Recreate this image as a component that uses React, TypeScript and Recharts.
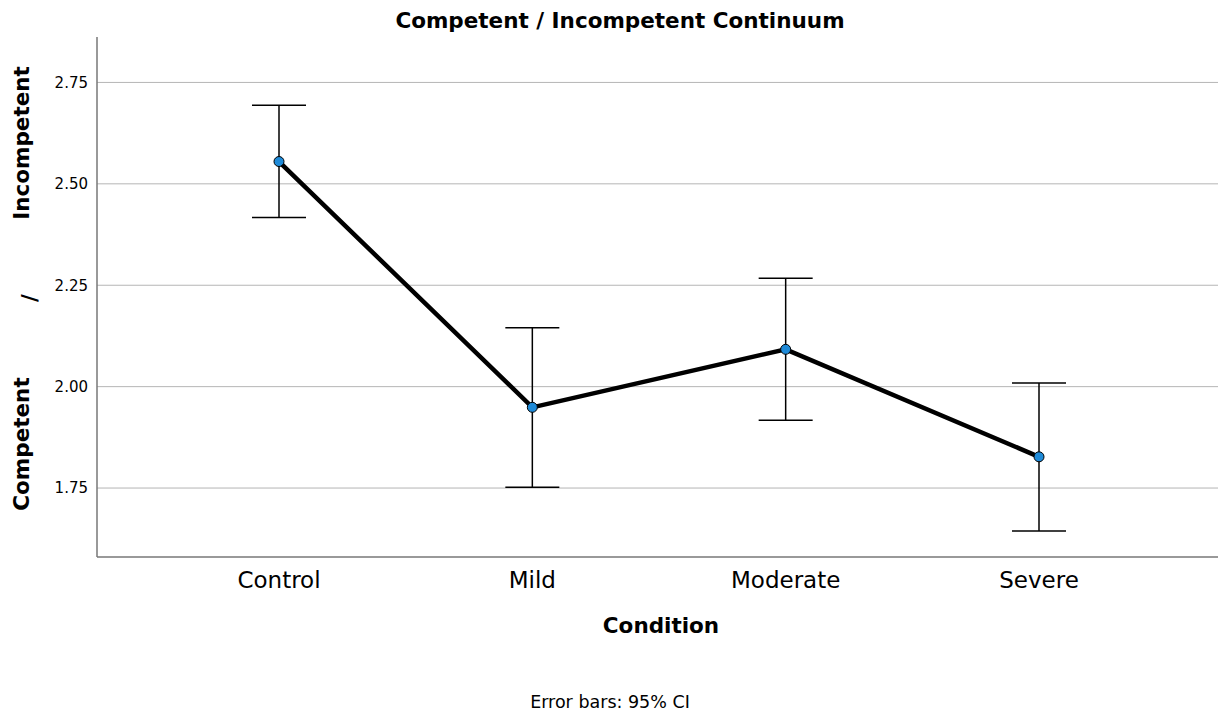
import React from 'react';
import {
  LineChart,
  Line,
  XAxis,
  YAxis,
  CartesianGrid,
  ErrorBar,
  Customized,
} from 'recharts';

// Group means and 95% CI bounds
const conditions = ['Control', 'Mild', 'Moderate', 'Severe'];
const means = [2.555, 1.949, 2.092, 1.827];
const ciLow = [2.417, 1.752, 1.917, 1.644];
const ciHigh = [2.694, 2.145, 2.267, 2.009];
const yTicks = [1.75, 2.0, 2.25, 2.5, 2.75];

const data = conditions.map((name, i) => ({
  name,
  mean: means[i],
  ci: [means[i] - ciLow[i], ciHigh[i] - means[i]],
}));

const FONT = '"DejaVu Sans", sans-serif';

const Texts = () => (
  <g fontFamily={FONT} fill="#000">
    <text x={620} y={28} textAnchor="middle" fontSize={21.5} fontWeight="bold">
      Competent / Incompetent Continuum
    </text>
    <text x={661} y={633} textAnchor="middle" fontSize={21.5} fontWeight="bold">
      Condition
    </text>
    <text x={610} y={708} textAnchor="middle" fontSize={17.5}>
      Error bars: 95% CI
    </text>
    <text transform="translate(29,143) rotate(-90)" textAnchor="middle" fontSize={21.5} fontWeight="bold">
      Incompetent
    </text>
    <text transform="translate(37,298) rotate(-90)" textAnchor="middle" fontSize={21.5} fontWeight="bold">
      /
    </text>
    <text transform="translate(29,444) rotate(-90)" textAnchor="middle" fontSize={21.5} fontWeight="bold">
      Competent
    </text>
  </g>
);

export default function App() {
  return (
    <div style={{ position: 'absolute', left: 0, top: 0, background: '#fff' }}>
      <LineChart
        width={1219}
        height={717}
        data={data}
        margin={{ top: 37, right: 1, bottom: 0, left: 0 }}
      >
        <CartesianGrid
          horizontal
          vertical={false}
          horizontalValues={yTicks}
          stroke="#b5b5b5"
          strokeWidth={1}
        />
        <XAxis
          dataKey="name"
          height={160}
          padding={{ left: 182, right: 179 }}
          tickLine={false}
          tickSize={0}
          tickMargin={15}
          stroke="#777"
          strokeWidth={1.5}
          tick={{ fill: '#000', fontSize: 23, fontFamily: FONT }}
        />
        <YAxis
          width={97}
          domain={[1.58, 2.862]}
          ticks={yTicks}
          tickFormatter={(v: number) => v.toFixed(2)}
          tickLine={false}
          tickSize={0}
          tickMargin={9}
          stroke="#777"
          strokeWidth={1.5}
          tick={{ fill: '#000', fontSize: 15, fontFamily: FONT }}
        />
        <Line
          dataKey="mean"
          stroke="#000"
          strokeWidth={4.5}
          isAnimationActive={false}
          dot={{ r: 5, fill: '#1e8ad8', stroke: '#000', strokeWidth: 1 }}
        >
          <ErrorBar dataKey="ci" direction="y" width={27} stroke="#000" strokeWidth={1.5} />
        </Line>
        <Customized component={Texts} />
      </LineChart>
    </div>
  );
}
